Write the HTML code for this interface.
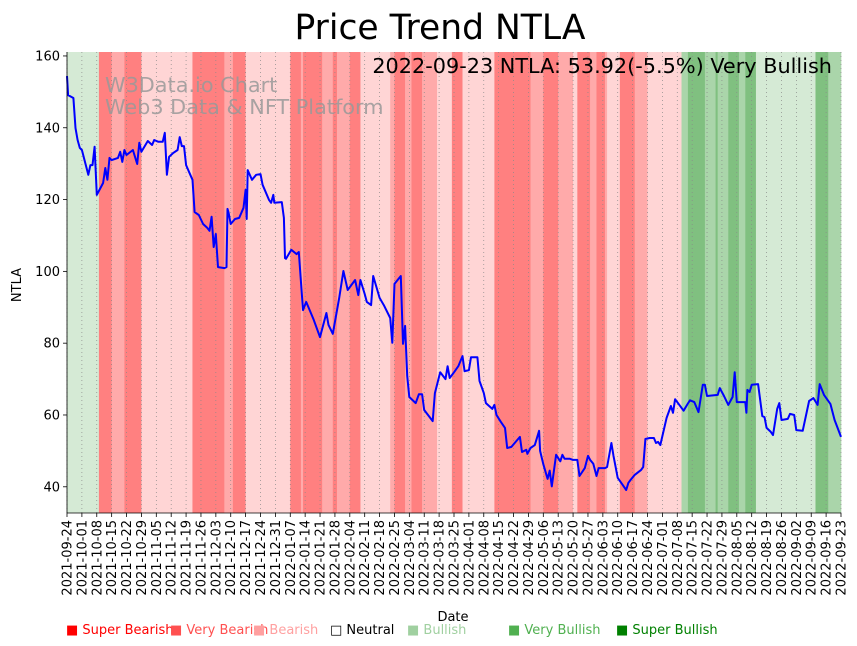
<!DOCTYPE html>
<html><head><meta charset="utf-8">
<style>
body{margin:0;background:#fff;}
svg{display:block;font-family:"DejaVu Sans","Liberation Sans",sans-serif;}
</style></head>
<body>
<svg id="chart" width="857" height="646" viewBox="0 0 857 646" xmlns="http://www.w3.org/2000/svg">
<g id="bands"></g>
<g id="grid"></g>
<text x="105" y="92" font-size="20.8" fill="#999" fill-opacity="0.85">W3Data.io Chart</text>
<text x="105" y="114" font-size="20.8" fill="#999" fill-opacity="0.85">Web3 Data &amp; NFT Platform</text>
<path id="line" fill="none" stroke="#0000ff" stroke-width="2" stroke-linejoin="round"/>
<g id="axes"></g>
<text x="440" y="39" font-size="34.5" text-anchor="middle" fill="#000">Price Trend NTLA</text>
<text x="832" y="73" font-size="20.8" text-anchor="end" fill="#000">2022-09-23 NTLA: 53.92(-5.5%) Very Bullish</text>
<text x="21" y="285" font-size="13" text-anchor="middle" transform="rotate(-90 21 285)">NTLA</text>
<text x="453" y="621" font-size="13" text-anchor="middle">Date</text>
<g id="legend"></g>
</svg>
<script>
const startDate = "2021-09-24";
const totalDays = 364;
const yTicks = [40, 60, 80, 100, 120, 140, 160];
const days = [0,0.5,3,4,5,6,7,10,11,12,13,14,17,18,19,20,21,24,25,26,27,28,31,33,34,35,38,40,41,43,45,46,47,48,50,52,53,54,55,56,58,59,60,62,64,66,67,68,69,70,71,74,75,75.5,76,77,79,81,83,84,84.5,85,87,89,91,92,95,96,97,97.5,101,102,102.5,103,105.5,108,109,111,112.5,116,119,122,123,125,128,130,132,135.5,137,138,140,141,143,144,147,149,152,153,154,157,158,159,160,161,164,165.5,167,168,172,173,175.5,178,179,180,182,184,186,187,189,190,193,194,196,197,200,201,202,204,206,207,209,213,214,216,216.5,218,220,222,222.5,224,226,227,228,230,232,233,234,235,236.5,238,240,241,243.5,245,246,247.5,249,250,253,254,256,257,259,261,263,264,265,267,270,271,272,274,276,277,278,279,282,284,285,286,290,292,293,295,297,299,300,301,306,307,309,311,313,314,315,319,319.5,320,321,322,325,327,328,329,331,332,334,335,336,339,340,342,343,346,349,351,353,354,356,359,361,364];
const prices = [154.4,149.1,148.3,139.9,136.6,134.4,133.8,126.9,129.6,129.6,134.7,121.3,124.6,128.8,125.5,131.6,131.0,131.6,133.3,130.5,133.8,132.4,133.8,129.9,135.8,133.3,136.3,135.2,136.6,136.1,136.1,138.6,126.9,131.9,133.0,133.8,137.4,134.9,134.9,129.6,126.9,125.5,116.5,115.7,113.2,112.1,111.3,115.2,106.8,110.4,101.2,100.9,101.2,117.4,116.3,113.2,114.6,114.9,117.7,122.7,114.6,128.2,125.5,126.9,127.1,124.1,119.9,119.1,121.3,119.1,119.3,114.9,103.7,103.5,106.0,104.8,105.4,89.2,91.5,86.5,81.7,88.4,85.1,82.6,92.6,100.1,94.8,97.6,93.4,97.6,93.7,91.5,90.6,98.7,92.6,90.6,87.0,80.1,96.5,98.7,79.8,84.8,70.9,65.0,63.3,65.8,65.8,61.4,58.3,66.1,71.9,70.0,73.6,70.3,71.9,73.6,76.4,72.2,72.5,76.1,76.1,69.5,66.1,63.3,61.7,62.8,60.0,58.1,56.4,50.8,51.1,53.9,49.7,50.3,49.2,50.8,51.6,55.6,50.0,46.3,42.2,44.5,40.1,48.9,47.1,48.9,47.8,47.8,47.8,47.5,47.5,43.0,45.2,48.6,47.5,46.4,43.0,45.2,45.2,45.5,52.2,48.6,42.5,40.8,39.1,41.1,41.9,43.3,44.7,45.5,53.3,53.6,53.6,52.2,52.5,51.6,59.2,62.5,60.6,64.4,61.2,63.2,64.1,63.6,60.8,68.4,68.4,65.3,65.6,67.5,65.3,62.8,65.0,71.9,63.6,63.6,60.6,67.0,66.4,68.4,68.6,59.7,59.4,56.4,55.3,54.4,61.7,63.3,58.6,58.9,60.3,60.0,55.8,55.6,63.9,64.7,62.8,68.6,65.6,63.1,58.6,53.9];
const bandStarts = [0,15,21,27,35,59,74,78,84,105,110,111,120,125,127,133,138,152,154,159,162,167,174,181,186,201,218,224,231,238,240,246,249,253,254,260,267,273,289,292,300,305,306,311,316,319,324,352,358];
const bandEnds   = [15,21,27,35,59,74,78,84,105,110,111,120,125,127,133,138,152,154,159,162,167,174,181,186,201,218,224,231,238,240,246,249,253,254,260,267,273,289,292,300,305,306,311,316,319,324,352,358,364];
const bandLevels = ["g1","r3","r2","r3","r1","r3","r2","r3","r1","r3","r2","r3","r2","r3","r2","r3","r1","r2","r3","r2","r3","r2","r1","r3","r1","r3","r2","r3","r2","r1","r3","r2","r3","r2","r1","r3","r2","r1","g2","g3","g2","g3","g2","g3","g2","g3","g1","g3","g2"];
const legendLabels = ["Super Bearish","Very Bearish","Bearish","Neutral","Bullish","Very Bullish","Super Bullish"];

const levelColor = {r3:"#ff8080",r2:"#ffaaaa",r1:"#ffd5d5",g1:"#d5ead5",g2:"#aad5aa",g3:"#80c080"};
const X0=67, X1=841, Y0=513, Y1=52;
const yMin=32.7, yMax=161.1;
const xs = d => X0 + (d/totalDays)*(X1-X0);
const ys = v => Y0 - (v-yMin)/(yMax-yMin)*(Y0-Y1);
const NS="http://www.w3.org/2000/svg";
function mk(tag, attrs, parent){const e=document.createElementNS(NS,tag);for(const k in attrs)e.setAttribute(k,attrs[k]);parent.appendChild(e);return e;}

const bandsG=document.getElementById('bands');
bandStarts.forEach((s,i)=>{
  const r=mk('rect',{x:xs(s),y:Y1,width:xs(bandEnds[i])-xs(s)+0.3,height:Y0-Y1,fill:levelColor[bandLevels[i]]},bandsG);
  
  
});

const gridG=document.getElementById('grid'), axesG=document.getElementById('axes');
const sd=new Date(startDate+"T00:00:00Z");
for(let d=0; d<=totalDays; d+=7){
  const x=xs(d);
  const gl=mk('line',{x1:x,x2:x,y1:Y1,y2:Y0,stroke:"#888","stroke-width":0.7,"stroke-dasharray":"1,3"},gridG);
  
  
  mk('line',{x1:x,x2:x,y1:Y0,y2:Y0+4,stroke:"#000","stroke-width":0.8},axesG);
  const dt=new Date(sd.getTime()+d*86400000);
  const lbl=dt.toISOString().slice(0,10);
  const t=mk('text',{x:0,y:0,"font-size":13,"text-anchor":"end",transform:`translate(${x+4.5},${Y0+7}) rotate(-90)`},axesG);
  t.textContent=lbl;
  
  
}
yTicks.forEach(v=>{
  const y=ys(v);
  mk('line',{x1:X0-4,x2:X0,y1:y,y2:y,stroke:"#000","stroke-width":0.8},axesG);
  const t=mk('text',{x:X0-7,y:y+4.5,"font-size":13,"text-anchor":"end"},axesG);
  t.textContent=v;
  
  
});
mk('line',{x1:X0,x2:X0,y1:Y1,y2:Y0,stroke:"#000","stroke-width":0.8},axesG);
mk('line',{x1:X0,x2:X1,y1:Y0,y2:Y0,stroke:"#000","stroke-width":0.8},axesG);

document.getElementById('line').setAttribute('d', days.map((d,i)=>(i?'L':'M')+xs(d).toFixed(1)+','+ys(prices[i]).toFixed(1)).join(''));

const legendG=document.getElementById('legend');
const legX=[66,170,253,330,407,508,616];
const legCol=["#ff0000","#ff5050","#ffa0a0","#000000","#a0d0a0","#50b050","#008000"];
const legSym=["■","■","■","□","■","■","■"];
legendLabels.forEach((l,i)=>{
  const t=mk('text',{x:legX[i],y:634,"font-size":13,fill:legCol[i]},legendG);
  t.textContent=legSym[i]+" "+l;
  
  
});
</script>
</body></html>
